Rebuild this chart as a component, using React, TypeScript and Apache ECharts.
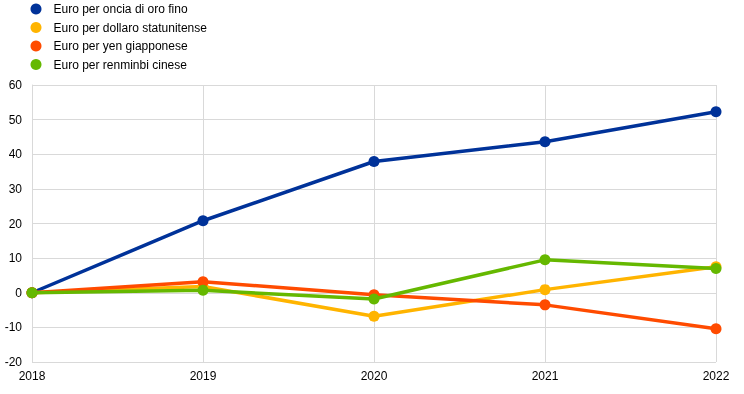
import React, { useEffect, useRef } from "react";
import * as echarts from "echarts";

const years = ["2018", "2019", "2020", "2021", "2022"];
const seriesNames = [
  "Euro per oncia di oro fino",
  "Euro per dollaro statunitense",
  "Euro per yen giapponese",
  "Euro per renminbi cinese",
];
const gold = [0, 20.8, 37.9, 43.6, 52.3];
const dollar = [0, 1.8, -6.8, 0.9, 7.5];
const yen = [0, 3.2, -0.6, -3.5, -10.4];
const renminbi = [0, 0.7, -1.8, 9.5, 7.0];
const colors = ["#003299", "#FFB400", "#FF4B00", "#65B800"];

export default function App() {
  const ref = useRef<HTMLDivElement>(null);
  useEffect(() => {
    const chart = echarts.init(ref.current!, null, { renderer: "svg" });
    const data = [gold, dollar, yen, renminbi];
    const order = [0, 1, 2, 3];
    chart.setOption({
      animation: false,
      textStyle: { fontFamily: "Liberation Sans, Arial, sans-serif" },
      legend: {
        orient: "vertical",
        left: 30.5,
        top: 3,
        padding: 0,
        itemGap: 6.5,
        itemWidth: 11,
        itemHeight: 11,
        icon: "circle",
        textStyle: { fontSize: 12, color: "#000", padding: [0, 0, 0, 7] },
        data: seriesNames,
      },
      grid: { left: 32, right: 28, top: 85, bottom: 32 },
      xAxis: {
        type: "category",
        data: years,
        boundaryGap: false,
        axisLine: { lineStyle: { color: "#d9d9d9", width: 1 } },
        axisTick: { show: false },
        axisLabel: { color: "#000", fontSize: 12, margin: 8 },
        splitLine: { show: true, lineStyle: { color: "#d9d9d9", width: 1 } },
      },
      yAxis: {
        type: "value",
        min: -20,
        max: 60,
        interval: 10,
        axisLine: { show: true, lineStyle: { color: "#d9d9d9" } },
        axisTick: { show: false },
        axisLabel: { color: "#000", fontSize: 12, margin: 10 },
        splitLine: { lineStyle: { color: "#d9d9d9", width: 1 } },
      },
      series: order.map((i) => ({
        name: seriesNames[i],
        type: "line",
        data: data[i],
        color: colors[i],
        symbol: "circle",
        symbolSize: 11,
        lineStyle: { width: 3.5 },
        z: 2 + i,
      })),
    });
    return () => chart.dispose();
  }, []);
  return (
    <div
      ref={ref}
      style={{ position: "fixed", left: 0, top: 0, width: 744, height: 394 }}
    />
  );
}
